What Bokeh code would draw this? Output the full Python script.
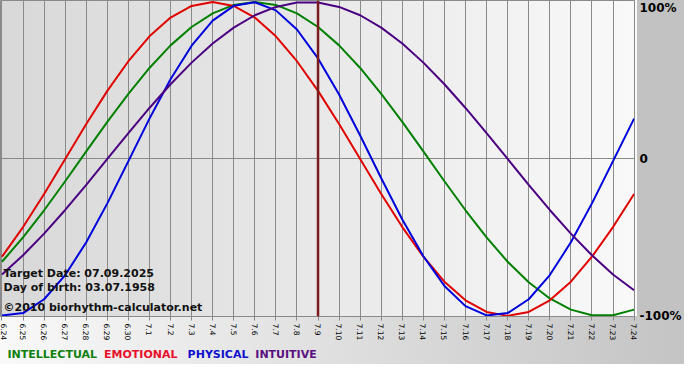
import math
from bokeh.plotting import figure
from bokeh.layouts import column
from bokeh.models import Range1d, FixedTicker, Span, Label
from bokeh.core.properties import value
from bokeh.embed import file_html
from bokeh.resources import INLINE

# ---- data ----
dates = ["6.24", "6.25", "6.26", "6.27", "6.28", "6.29", "6.30",
         "7.1", "7.2", "7.3", "7.4", "7.5", "7.6", "7.7", "7.8", "7.9",
         "7.10", "7.11", "7.12", "7.13", "7.14", "7.15", "7.16", "7.17",
         "7.18", "7.19", "7.20", "7.21", "7.22", "7.23", "7.24"]

physical = [-0.997, -0.982, -0.894, -0.740, -0.531, -0.283, -0.014, 0.257,
            0.508, 0.722, 0.882, 0.976, 0.999, 0.947, 0.825, 0.641, 0.411,
            0.150, -0.123, -0.386, -0.620, -0.809, -0.938, -0.997, -0.982,
            -0.894, -0.740, -0.531, -0.283, -0.014, 0.257]

emotional = [-0.623, -0.434, -0.223, 0.000, 0.223, 0.434, 0.623, 0.782,
             0.901, 0.975, 1.000, 0.975, 0.901, 0.782, 0.623, 0.434, 0.223,
             0.000, -0.223, -0.434, -0.623, -0.782, -0.901, -0.975, -1.000,
             -0.975, -0.901, -0.782, -0.623, -0.434, -0.223]

intellectual = [-0.655, -0.500, -0.327, -0.142, 0.048, 0.236, 0.415, 0.580,
                0.724, 0.841, 0.928, 0.982, 1.000, 0.982, 0.928, 0.841, 0.724,
                0.580, 0.415, 0.236, 0.048, -0.142, -0.327, -0.500, -0.655,
                -0.786, -0.889, -0.960, -0.996, -0.996, -0.960]

intuitive = [-0.736, -0.614, -0.476, -0.325, -0.165, 0.000, 0.165, 0.325,
             0.476, 0.614, 0.736, 0.837, 0.916, 0.969, 0.997, 0.997, 0.969,
             0.916, 0.837, 0.736, 0.614, 0.476, 0.325, 0.165, 0.000, -0.165,
             -0.325, -0.476, -0.614, -0.736, -0.837]

target_date = "7.9"
pct_ticks = [-1, 0, 1]
pct_labels = ["-100%", "0", "100%"]
info_lines = ["Target Date: 07.09.2025", "Day of birth: 03.07.1958",
              "\u00a92010 biorhythm-calculator.net"]
series_names = ["INTELLECTUAL", "EMOTIONAL", "PHYSICAL", "INTUITIVE"]

# ---- styling ----
GRID = "#8a8a8a"
C_INT = "#008000"
C_EMO = "#e00000"
C_PHY = "#0000dd"
C_ITU = "#4b0082"
W = 684
FRAME_W, FRAME_H = 637, 316
H = 343          # main chart (frame + date labels)
LEG_H = 21       # legend strip

days = list(range(len(dates)))

p = figure(width=W, height=H, title=None,
           x_range=Range1d(-0.07, 30.02), y_range=Range1d(-1.004, 1.01),
           y_axis_location="right", output_backend="svg",
           toolbar_location=None,
           min_border_left=0, min_border_right=W - FRAME_W,
           min_border_top=0, min_border_bottom=H - FRAME_H,
           background_fill_color=None, border_fill_color=None,
           outline_line_color=GRID, outline_line_width=1)

p.styles = {
    "background": (
        f"linear-gradient(to right, #d8d8d8, #f9f9f9) 0 0 / {FRAME_W}px {FRAME_H}px no-repeat, "
        f"linear-gradient(#c2c2c2, #c2c2c2) {FRAME_W}px 0 / {W - FRAME_W}px {FRAME_H}px no-repeat, "
        f"linear-gradient(to right, #f9f9f9, #c4c4c4) 0 {FRAME_H}px / {W}px {H - FRAME_H}px no-repeat"
    )
}

# grid
p.xgrid.ticker = FixedTicker(ticks=days)
p.xgrid.grid_line_color = GRID
p.xgrid.grid_line_alpha = 1
p.ygrid.ticker = FixedTicker(ticks=[0])
p.ygrid.grid_line_color = GRID
p.ygrid.grid_line_alpha = 1

# bottom axis with dates
p.xaxis.ticker = FixedTicker(ticks=days)
p.xaxis.major_label_overrides = {i: d for i, d in enumerate(dates)}
p.xaxis.major_label_orientation = -math.pi / 2
p.xaxis.major_label_text_font = "DejaVu Sans"
p.xaxis.major_label_text_font_size = "7.5px"
p.xaxis.major_label_text_color = "#000000"
p.xaxis.axis_line_color = GRID
p.xaxis.major_tick_line_color = GRID
p.xaxis.major_tick_out = 4
p.xaxis.major_tick_in = 0
p.xaxis.minor_tick_line_color = None
p.xaxis.major_label_standoff = 3

# right axis with percentages (top label nudged down so it is not cut)
nudge = 0.03
tick_pos = [t - nudge if t == max(pct_ticks) else t for t in pct_ticks]
p.yaxis.ticker = FixedTicker(ticks=tick_pos)
p.yaxis.major_label_overrides = {t: l for t, l in zip(tick_pos, pct_labels)}
p.yaxis.major_label_text_font = "DejaVu Sans"
p.yaxis.major_label_text_font_style = "bold"
p.yaxis.major_label_text_font_size = "12px"
p.yaxis.major_label_text_color = "#000000"
p.yaxis.axis_line_color = None
p.yaxis.major_tick_line_color = None
p.yaxis.minor_tick_line_color = None
p.yaxis.major_tick_out = 0
p.yaxis.major_tick_in = 0
p.yaxis.major_label_standoff = 5

# target date marker
p.add_layout(Span(location=dates.index(target_date), dimension="height",
                  line_color="#7a1c1c", line_width=2.5))

# curves
for vals, col in [(intellectual, C_INT), (emotional, C_EMO),
                  (physical, C_PHY), (intuitive, C_ITU)]:
    p.line(days, vals, line_color=col, line_width=2)

# info text inside plot
for txt, yy in zip(info_lines, [43.5, 29.5, 9.5]):
    p.add_layout(Label(x=3, y=yy, x_units="screen", y_units="screen", text=txt,
                       text_font="DejaVu Sans", text_font_style="bold",
                       text_font_size="11px", text_color="#111111",
                       text_baseline="alphabetic"))

# ---- legend strip (its frame is aligned with the chart frame by the column) ----
q = figure(width=W, height=LEG_H, title=None,
           x_range=Range1d(0, FRAME_W), y_range=Range1d(0, LEG_H),
           x_axis_location=None, y_axis_location=None,
           output_backend="svg", toolbar_location=None,
           min_border_left=0, min_border_right=W - FRAME_W,
           min_border_top=0, min_border_bottom=0,
           background_fill_color=None, border_fill_color=None,
           outline_line_color=None)
q.grid.visible = False
q.styles = {"background": "linear-gradient(to right, #f9f9f9, #c4c4c4)"}

legend_cols = ["#108010", "#e8102a", "#1010cc", "#5a1080"]
legend_x = [7, 104, 188, 256]
q.text(x=legend_x, y=[LEG_H / 2] * len(series_names), text=series_names,
       text_color=legend_cols, text_font=value("DejaVu Sans"),
       text_font_style="bold", text_font_size="11px",
       text_baseline="middle")

open("out.html", "w").write(file_html(column(p, q, spacing=0), INLINE))
